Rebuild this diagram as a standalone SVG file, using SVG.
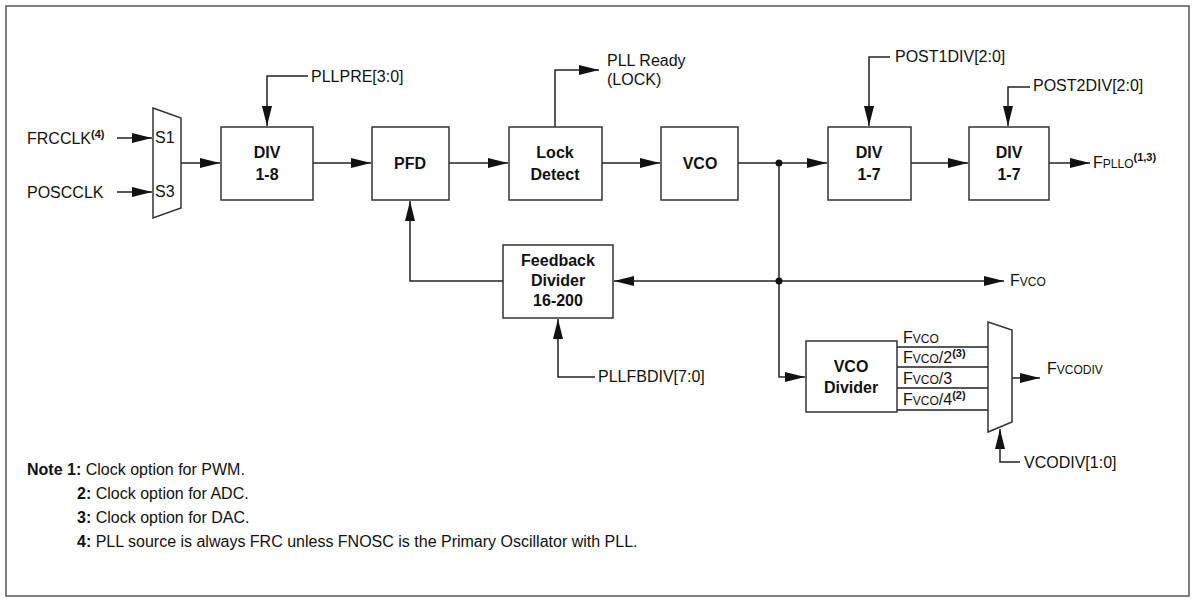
<svg xmlns="http://www.w3.org/2000/svg" width="1196" height="601" viewBox="0 0 1196 601">
<defs>
<marker id="ab" viewBox="0 0 20 12" refX="20" refY="6" markerWidth="20" markerHeight="12" markerUnits="userSpaceOnUse" orient="auto"><path d="M0,1 L20,6 L0,11 z" fill="#111"/></marker>
<style>
text{font-family:"Liberation Sans",Arial,sans-serif;font-size:16px;fill:#111}
.b{font-weight:bold;text-anchor:middle}
.s{font-size:12px}
.sup{font-size:11px;font-weight:bold}
rect.n,polygon.n{fill:#fff;stroke:#333;stroke-width:1.5}
.c path{fill:none;stroke:#222;stroke-width:1.5}
</style>
</defs>
<rect width="1196" height="601" fill="#fff"/>
<rect x="6" y="6" width="1183" height="590" fill="none" stroke="#555" stroke-width="1.5"/>
<g class="c">
<path d="M117,138 H152" marker-end="url(#ab)"/>
<path d="M117,192 H152" marker-end="url(#ab)"/>
<path d="M181,163 H220" marker-end="url(#ab)"/>
<path d="M308,76 H267 V126" marker-end="url(#ab)"/>
<path d="M313,163 H371" marker-end="url(#ab)"/>
<path d="M449,163 H508" marker-end="url(#ab)"/>
<path d="M555,127 V70 H599" marker-end="url(#ab)"/>
<path d="M602,163 H660" marker-end="url(#ab)"/>
<path d="M738,163 H827" marker-end="url(#ab)"/>
<path d="M890,57 H869 V126" marker-end="url(#ab)"/>
<path d="M911,163 H968" marker-end="url(#ab)"/>
<path d="M1030,87 H1008 V126" marker-end="url(#ab)"/>
<path d="M1049,163 H1090" marker-end="url(#ab)"/>
<path d="M779,163 V377 H805" marker-end="url(#ab)"/>
<path d="M779,281 H614" marker-end="url(#ab)"/>
<path d="M779,281 H1004" marker-end="url(#ab)"/>
<path d="M503,281 H410 V201" marker-end="url(#ab)"/>
<path d="M595,377 H558 V319" marker-end="url(#ab)"/>
<path d="M897,347 H988 M897,367 H988 M897,388 H988 M897,410 H988"/>
<path d="M1012,378 H1040" marker-end="url(#ab)"/>
<path d="M1020,462 H1000 V429" marker-end="url(#ab)"/>
<circle cx="779" cy="163" r="3.5" fill="#111"/>
<circle cx="779" cy="281" r="3.5" fill="#111"/>
</g>
<g id="mux1"><polygon class="n" points="153,108 181,118 181,208 153,218"/><text x="155" y="143">S1</text><text x="155" y="197">S3</text></g>
<g id="div18"><rect class="n" x="221" y="127" width="92" height="73"/><text class="b" x="267" y="158">DIV</text><text class="b" x="267" y="180">1-8</text></g>
<g id="pfd"><rect class="n" x="372" y="127" width="77" height="73"/><text class="b" x="410" y="169">PFD</text></g>
<g id="lock"><rect class="n" x="509" y="127" width="93" height="73"/><text class="b" x="555" y="158">Lock</text><text class="b" x="555" y="180">Detect</text></g>
<g id="vco"><rect class="n" x="661" y="127" width="77" height="73"/><text class="b" x="700" y="169">VCO</text></g>
<g id="div17a"><rect class="n" x="828" y="127" width="83" height="73"/><text class="b" x="869" y="158">DIV</text><text class="b" x="869" y="180">1-7</text></g>
<g id="div17b"><rect class="n" x="969" y="127" width="80" height="73"/><text class="b" x="1009" y="158">DIV</text><text class="b" x="1009" y="180">1-7</text></g>
<g id="fbdiv"><rect class="n" x="503" y="245" width="110" height="73"/><text class="b" x="558" y="266">Feedback</text><text class="b" x="558" y="286">Divider</text><text class="b" x="558" y="306">16-200</text></g>
<g id="vcodivider"><rect class="n" x="806" y="341" width="91" height="71"/><text class="b" x="851" y="372">VCO</text><text class="b" x="851" y="393">Divider</text></g>
<g id="mux2"><polygon class="n" points="988,322 1012,330 1012,422 988,432"/></g>
<g id="labels">
<text x="27" y="144">FRCCLK<tspan class="sup" dy="-6">(4)</tspan></text>
<text x="27" y="198">POSCCLK</text>
<text x="311" y="82">PLLPRE[3:0]</text>
<text x="607" y="66">PLL Ready</text>
<text x="607" y="85">(LOCK)</text>
<text x="895" y="62">POST1DIV[2:0]</text>
<text x="1033" y="91">POST2DIV[2:0]</text>
<text x="1093" y="168">F<tspan class="s">PLLO</tspan><tspan class="sup" dy="-7">(1,3)</tspan></text>
<text x="1010" y="286">F<tspan class="s">VCO</tspan></text>
<text x="598" y="382">PLLFBDIV[7:0]</text>
<text x="903" y="343">F<tspan class="s">VCO</tspan></text>
<text x="903" y="363">F<tspan class="s">VCO</tspan>/2<tspan class="sup" dy="-6">(3)</tspan></text>
<text x="903" y="384">F<tspan class="s">VCO</tspan>/3</text>
<text x="903" y="405">F<tspan class="s">VCO</tspan>/4<tspan class="sup" dy="-6">(2)</tspan></text>
<text x="1047" y="374">F<tspan class="s">VCODIV</tspan></text>
<text x="1024" y="468">VCODIV[1:0]</text>
<text x="27" y="475"><tspan font-weight="bold">Note 1:</tspan> Clock option for PWM.</text>
<text x="77" y="499"><tspan font-weight="bold">2:</tspan> Clock option for ADC.</text>
<text x="77" y="523"><tspan font-weight="bold">3:</tspan> Clock option for DAC.</text>
<text x="77" y="547"><tspan font-weight="bold">4:</tspan> PLL source is always FRC unless FNOSC is the Primary Oscillator with PLL.</text>
</g>
</svg>
